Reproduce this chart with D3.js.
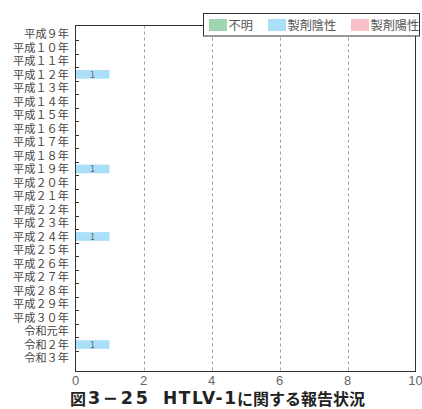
<!DOCTYPE html>
<html>
<head>
<meta charset="utf-8">
<script src="https://cdn.jsdelivr.net/npm/d3@7"></script>
<style>
  html, body { margin: 0; padding: 0; background: #fff; }
  svg { display: block; font-family: "Noto Sans CJK JP", "Noto Sans", sans-serif; }
  .wide { font-feature-settings: "fwid" 1; }
</style>
</head>
<body>
<svg id="chart" width="422" height="409"></svg>
<script>
// Report years (rows, top to bottom)
const years = [
  "平成9年", "平成10年", "平成11年", "平成12年", "平成13年", "平成14年",
  "平成15年", "平成16年", "平成17年", "平成18年", "平成19年", "平成20年",
  "平成21年", "平成22年", "平成23年", "平成24年", "平成25年", "平成26年",
  "平成27年", "平成28年", "平成29年", "平成30年", "令和元年", "令和2年", "令和3年"
];
// Series (stack order) and their counts per year
const seriesNames = ["不明", "製剤陰性", "製剤陽性"];
const unknownCounts  = [0,0,0,0,0,0,0,0,0,0,0,0,0,0,0,0,0,0,0,0,0,0,0,0,0];
const negativeCounts = [0,0,0,1,0,0,0,0,0,0,1,0,0,0,0,1,0,0,0,0,0,0,0,1,0];
const positiveCounts = [0,0,0,0,0,0,0,0,0,0,0,0,0,0,0,0,0,0,0,0,0,0,0,0,0];
const xTicks = [0, 2, 4, 6, 8, 10];
const titleParts = ["図", "3−25", "HTLV-1", "に関する報告状況"];

const colors = ["#9fd6b0", "#a9dff8", "#f8bfc9"];

const rows = years.map((y, i) => ({
  year: y,
  "不明": unknownCounts[i],
  "製剤陰性": negativeCounts[i],
  "製剤陽性": positiveCounts[i]
}));

const svg = d3.select("#chart");

const frame = { left: 75.5, right: 415.5, top: 25.5, bottom: 371.5 };

const x = d3.scaleLinear().domain([0, 10]).range([frame.left, frame.right]);
const y = d3.scaleBand().domain(years).range([26.5, 364.2]).paddingInner(0).paddingOuter(0);

// Dashed vertical grid lines
svg.append("g")
  .selectAll("line")
  .data(xTicks.filter(t => t > 0 && t < 10))
  .join("line")
  .attr("x1", d => Math.round(x(d)) + 0.5)
  .attr("x2", d => Math.round(x(d)) + 0.5)
  .attr("y1", frame.top)
  .attr("y2", frame.bottom)
  .attr("stroke", "#8a8a8a")
  .attr("stroke-width", 0.8)
  .attr("stroke-dasharray", "3,3");

// Stacked bars
const stack = d3.stack().keys(seriesNames)(rows);
const barH = y.bandwidth() * 0.64;
const layers = svg.append("g")
  .selectAll("g")
  .data(stack)
  .join("g")
  .attr("fill", (d, i) => colors[i]);

layers.selectAll("rect")
  .data(d => d.filter(p => p[1] - p[0] > 0))
  .join("rect")
  .attr("x", d => x(d[0]))
  .attr("width", d => x(d[1]) - x(d[0]))
  .attr("y", d => y(d.data.year) + (y.bandwidth() - barH) / 2 + 0.6)
  .attr("height", barH);

// Value labels inside bars
layers.selectAll("text")
  .data(d => d.filter(p => p[1] - p[0] > 0))
  .join("text")
  .attr("x", d => (x(d[0]) + x(d[1])) / 2)
  .attr("y", d => y(d.data.year) + y.bandwidth() / 2 + 0.6)
  .attr("text-anchor", "middle")
  .attr("dominant-baseline", "central")
  .attr("font-size", 9)
  .attr("fill", "#666")
  .text(d => d[1] - d[0]);

// Plot frame
svg.append("rect")
  .attr("x", frame.left)
  .attr("y", frame.top)
  .attr("width", frame.right - frame.left)
  .attr("height", frame.bottom - frame.top)
  .attr("fill", "none")
  .attr("stroke", "#333")
  .attr("stroke-width", 1);

// Inward ticks on the left axis at row boundaries
svg.append("g")
  .selectAll("line")
  .data(years.slice(1))
  .join("line")
  .attr("x1", frame.left)
  .attr("x2", frame.left + 3.5)
  .attr("y1", d => Math.round(y(d)) + 0.5)
  .attr("y2", d => Math.round(y(d)) + 0.5)
  .attr("stroke", "#333")
  .attr("stroke-width", 1);

// Row labels (full-width digit glyphs)
svg.append("g")
  .selectAll("text")
  .data(years)
  .join("text")
  .attr("class", "wide")
  .attr("x", 69)
  .attr("y", d => y(d) + y.bandwidth() / 2)
  .attr("text-anchor", "end")
  .attr("dominant-baseline", "central")
  .attr("font-size", 11.2)
  .attr("fill", "#444")
  .text(d => d);

// X axis labels
svg.append("g")
  .selectAll("text")
  .data(xTicks)
  .join("text")
  .attr("x", d => x(d))
  .attr("y", 380.5)
  .attr("text-anchor", "middle")
  .attr("dominant-baseline", "central")
  .attr("font-family", "'Liberation Sans', sans-serif")
  .attr("font-size", 13)
  .attr("fill", "#666")
  .text(d => d);

// Legend
const legend = svg.append("g");
legend.append("rect")
  .attr("x", 203.5)
  .attr("y", 13.5)
  .attr("width", 216)
  .attr("height", 22.5)
  .attr("fill", "#fff")
  .attr("stroke", "#333")
  .attr("stroke-width", 1);
const legendX = [209, 268, 351];
const items = legend.selectAll("g.item")
  .data(seriesNames)
  .join("g")
  .attr("class", "item")
  .attr("transform", (d, i) => `translate(${legendX[i]},0)`);
items.append("rect")
  .attr("x", 0)
  .attr("y", 19)
  .attr("width", 18)
  .attr("height", 12)
  .attr("fill", (d, i) => colors[i]);
items.append("text")
  .attr("x", 19.5)
  .attr("y", 25)
  .attr("dominant-baseline", "central")
  .attr("font-size", 12.2)
  .attr("fill", "#555")
  .text(d => d);

// Title
const titleText = svg.append("text")
  .attr("y", 397.5)
  .attr("dominant-baseline", "central")
  .attr("font-size", 16)
  .attr("font-weight", 700)
  .attr("fill", "#222");
titleText.append("tspan")
  .attr("x", 70)
  .text(titleParts[0]);
titleText.append("tspan")
  .attr("x", 88)
  .attr("font-family", "'DejaVu Sans', sans-serif")
  .attr("font-size", 17.5)
  .attr("font-weight", 600)
  .attr("textLength", 60)
  .attr("lengthAdjust", "spacing")
  .text(titleParts[1]);
titleText.append("tspan")
  .attr("x", 163)
  .attr("font-family", "'DejaVu Sans', sans-serif")
  .attr("font-size", 17)
  .attr("font-weight", 600)
  .attr("textLength", 73)
  .attr("lengthAdjust", "spacing")
  .text(titleParts[2]);
titleText.append("tspan")
  .attr("x", 237)
  .text(titleParts[3]);
</script>
</body>
</html>
